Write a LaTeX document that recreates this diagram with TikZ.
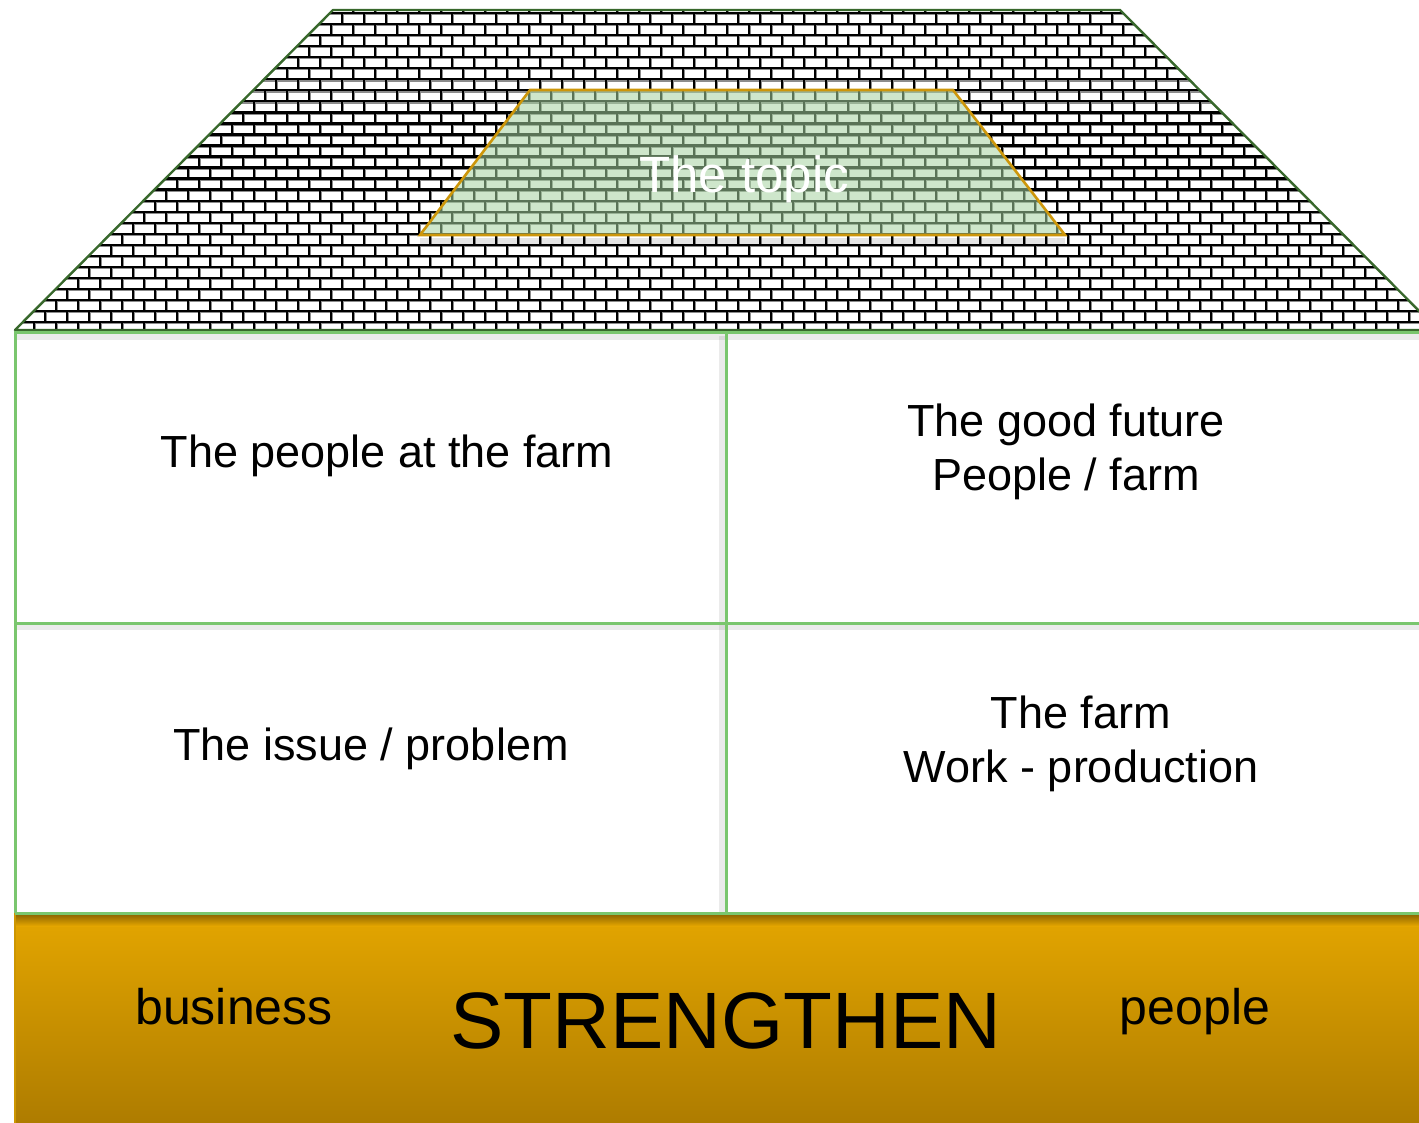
\documentclass[tikz,border=0pt]{standalone}
\usepackage{fontspec}
\setmainfont{Liberation Sans}
\definecolor{roofgreen}{RGB}{56,104,44}
\definecolor{cellgreen}{RGB}{122,198,110}
\definecolor{topicgold}{RGB}{205,150,10}
\definecolor{topicfill}{RGB}{165,210,160}
\definecolor{bandtop}{RGB}{228,166,0}
\definecolor{bandbottom}{RGB}{174,124,0}
\definecolor{bandedge}{RGB}{205,150,0}

\begin{document}
\begin{tikzpicture}[x=1pt,y=-1pt,
    brick_line/.style={black,line width=2.3pt},
    brick_shade/.style={black!45,line width=1.4pt},
    cell_line/.style={cellgreen,line width=3pt},
    line_shadow/.style={black,opacity=0.08,line width=6pt},
    cell_text/.style={font=\fontsize{45}{54}\selectfont,align=center,inner sep=0pt},
    band_text/.style={font=\fontsize{50}{60}\selectfont,inner sep=0pt},
    topic_text/.style={font=\fontsize{51}{60}\selectfont,text=white,inner sep=0pt}]

    \clip (0,0) rectangle (1419,1123);

    % roof made of bricks
    \begin{scope}
        \clip (333,10) -- (1120,10) -- (1438,330) -- (15,330) -- cycle;
        \foreach \k in {0,...,30} {
            \pgfmathsetmacro{\ytop}{1.96+11.04*\k}
            \pgfmathsetmacro{\ybot}{\ytop+11.04}
            \pgfmathsetmacro{\xoff}{0.7+11*mod(\k,2)}
            \draw[brick_shade,shift={(1.6,1.6)}] (0,\ytop) -- (1440,\ytop)
                foreach \j in {0,...,65} {(\xoff+22*\j,\ytop) -- (\xoff+22*\j,\ybot)};
            \draw[brick_line] (0,\ytop) -- (1440,\ytop)
                foreach \j in {0,...,65} {(\xoff+22*\j,\ytop) -- (\xoff+22*\j,\ybot)};
        }
    \end{scope}
    \draw[roofgreen,line width=2.4pt,line join=round] (333,10) -- (1120,10) -- (1438,330) -- (15,330) -- cycle;

    % the topic
    \fill[black,opacity=0.1] (420,238) -- (1065,238) -- (1065,244) -- (420,244) -- cycle;
    \draw[topicgold,line width=2.6pt,fill=topicfill,fill opacity=0.55]
        (530,90) -- (953,90) -- (1065,235) -- (420,235) -- cycle;
    \node[topic_text] (topic) at (744,179) {The topic};

    % the cells
    \draw[line_shadow] (722,336) -- (722,913);
    \draw[line_shadow] (15,627) -- (1419,627);
    \draw[line_shadow] (15,337) -- (1419,337);
    \draw[cell_line] (15,333) -- (1419,333);
    \draw[cell_line] (15,623) -- (1419,623);
    \draw[cell_line] (726,333) -- (726,913);
    \draw[cell_line] (15,331) -- (15,913);

    \node[cell_text] (people_farm) at (387,456) {The people at the farm};
    \node[cell_text] (good_future) at (1066,452) {The good future\\People / farm};
    \node[cell_text] (issue) at (371,749) {The issue / problem};
    \node[cell_text] (farm_work) at (1081,744) {The farm\\Work - production};

    % the base
    \shade[top color=bandtop,bottom color=bandbottom] (15,913) rectangle (1419,1123);
    \shade[top color=bandbottom!80!black,bottom color=bandtop] (15,914) rectangle (1419,926);
    \draw[bandedge,line width=2pt] (15,913) -- (15,1123);
    \draw[cell_line] (15,913) -- (1419,913);

    \node[band_text] (business) at (234,1007) {business};
    \node[band_text,font=\fontsize{80}{90}\selectfont] (strengthen) at (726,1021) {STRENGTHEN};
    \node[band_text] (people) at (1195,1012) {people};
\end{tikzpicture}
\end{document}
